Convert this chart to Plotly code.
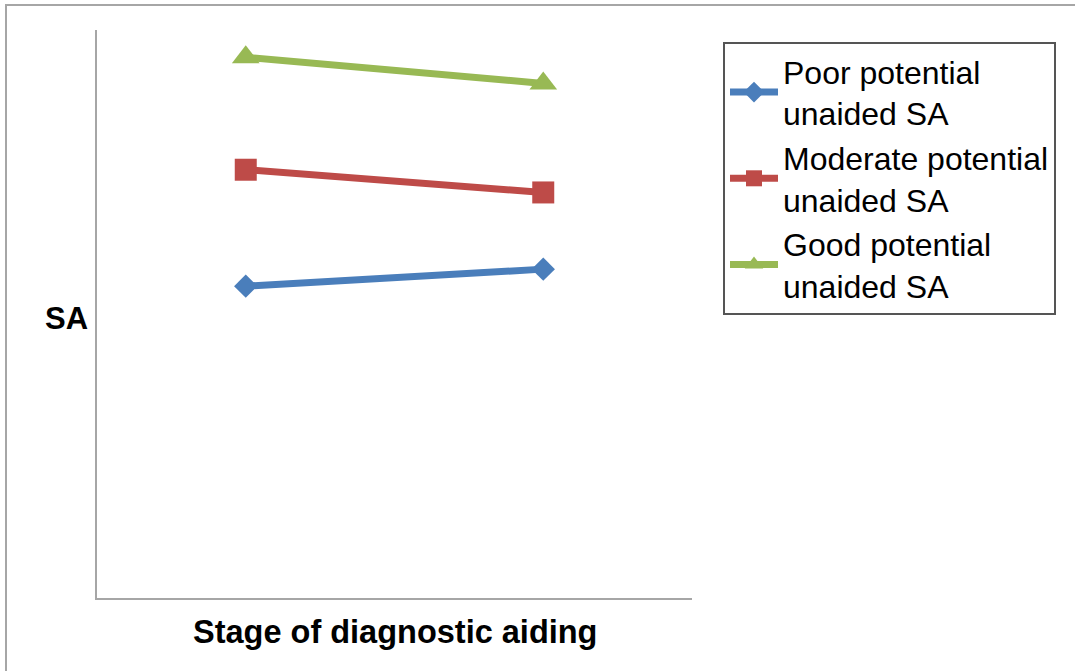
import plotly.graph_objects as go

# Two stages of diagnostic aiding on the category axis
stages = ["Stage 1", "Stage 2"]

# Mean SA for each group of potential unaided SA (axis runs 0-100, unlabelled)
poor_sa = [54.9, 57.9]
moderate_sa = [75.4, 71.4]
good_sa = [95.2, 90.6]

series_names = [
    "Poor potential<br>unaided SA",
    "Moderate potential<br>unaided SA",
    "Good potential<br>unaided SA",
]
series_values = [poor_sa, moderate_sa, good_sa]
series_colors = ["#4a7ebb", "#be4b48", "#98b954"]
series_symbols = ["diamond", "square", "triangle-up"]
series_sizes = [18, 22, 24]

W, H = 1075, 671
L, R, T, B = 97, 692, 30, 598

fig = go.Figure()
for name, vals, col, sym, sz in zip(series_names, series_values, series_colors,
                                    series_symbols, series_sizes):
    fig.add_trace(go.Scatter(
        x=stages, y=vals, name=name, mode="lines+markers",
        line=dict(color=col, width=7),
        marker=dict(symbol=sym, size=sz, color=col, line=dict(width=0)),
    ))

fig.update_layout(
    width=W, height=H,
    margin=dict(l=L, r=W - R, t=T, b=H - B, pad=0),
    paper_bgcolor="white", plot_bgcolor="white",
    font=dict(family="Liberation Sans, Arial, sans-serif", color="black"),
    showlegend=True,
    legend=dict(
        x=(723 - L) / (R - L), xanchor="left",
        y=(B - 42) / (B - T), yanchor="top",
        bgcolor="white", bordercolor="#555555", borderwidth=2,
        font=dict(size=32, color="black"),
        itemwidth=48, tracegroupgap=0,
    ),
    xaxis=dict(
        type="category", range=[-0.5, 1.5],
        showline=True, linecolor="#a6a6a6", linewidth=2,
        showticklabels=False, ticks="", showgrid=False, zeroline=False,
    ),
    yaxis=dict(
        range=[0, 100],
        showline=True, linecolor="#a6a6a6", linewidth=2,
        showticklabels=False, ticks="", showgrid=False, zeroline=False,
    ),
    annotations=[
        dict(text="<b>Stage of diagnostic aiding</b>", xref="paper", yref="paper",
             x=(395 - L) / (R - L), y=(B - 632) / (B - T),
             xanchor="center", yanchor="middle", showarrow=False,
             font=dict(size=32.5, color="black")),
        dict(text="<b>SA</b>", xref="paper", yref="paper",
             x=(66 - L) / (R - L), y=(B - 318) / (B - T),
             xanchor="center", yanchor="middle", showarrow=False,
             font=dict(size=31, color="black")),
    ],
    shapes=[
        # outer chart frame
        dict(type="rect", xref="paper", yref="paper",
             x0=(6 - L) / (R - L), x1=(1090 - L) / (R - L),
             y0=(B - 690) / (B - T), y1=(B - 5) / (B - T),
             line=dict(color="#a6a6a6", width=2), fillcolor="rgba(0,0,0,0)",
             layer="below"),
    ],
)

fig.write_html("out.html")
